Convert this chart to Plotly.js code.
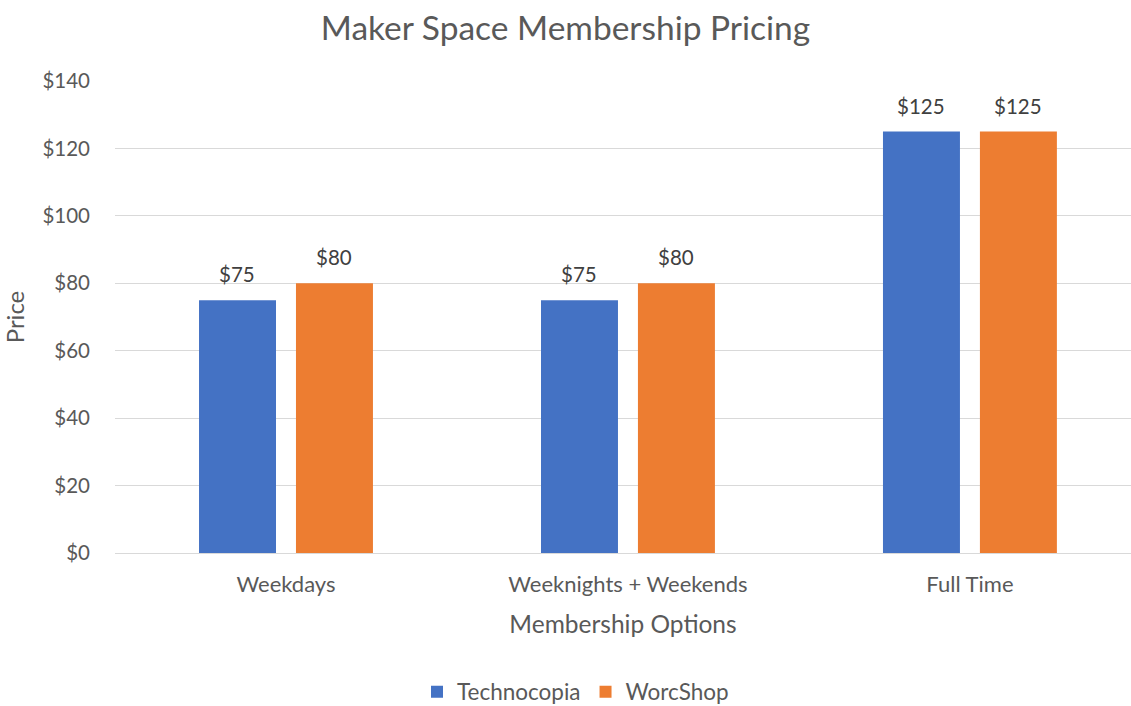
<!DOCTYPE html>
<html>
<head>
<meta charset="utf-8">
<script src="https://cdn.plot.ly/plotly-3.0.1.min.js"></script>
<style>html,body{margin:0;padding:0;background:#fff;}#chart{width:1131px;height:706px;}</style>
</head>
<body>
<div id="chart"></div>
<script>
const categories = ["Weekdays", "Weeknights + Weekends", "Full Time"];
const seriesNames = ["Technocopia", "WorcShop"];
const technocopia = [75, 75, 125];
const worcshop = [80, 80, 125];
const yTickVals = [0, 20, 40, 60, 80, 100, 120, 140];
const yTickText = ["$0", "$20", "$40", "$60", "$80", "$100", "$120", "$140"];

const FONT = "Lato, Open Sans, sans-serif";
const GREY = "#595959";
const COLORS = ["#4472C4", "#ED7D31"];
const SERIES = [technocopia, worcshop];
const OFFSETS = [-48.5, 48.5];

const traces = SERIES.map((vals, i) => ({
  type: "bar", name: seriesNames[i], x: categories, y: vals,
  marker: {color: COLORS[i]}, hoverinfo: "skip"
}));

const annotations = [];
SERIES.forEach((vals, i) => {
  vals.forEach((v, j) => {
    annotations.push({
      x: categories[j], y: v, xref: "x", yref: "y",
      text: "$" + v, showarrow: false,
      xshift: OFFSETS[i], yshift: 26, yanchor: "middle",
      font: {family: FONT, size: 20.5, color: "#404040"}
    });
  });
});

const layout = {
  width: 1131, height: 706,
  paper_bgcolor: "#fff", plot_bgcolor: "#fff",
  margin: {l: 115, r: 0, t: 81, b: 153},
  font: {family: FONT, color: GREY},
  title: {text: "Maker Space Membership Pricing", font: {family: FONT, size: 33.5, color: GREY},
          x: 0.5, xref: "container", y: 1 - 28/706, yref: "container", yanchor: "middle"},
  barmode: "group", bargap: 0.433, bargroupgap: 0.206,
  xaxis: {type: "category", range: [-0.5, 2.471], showgrid: false, zeroline: false,
          showline: false, ticks: "", tickfont: {family: FONT, size: 22, color: GREY},
          ticklabelstandoff: 16,
          title: {text: "Membership Options", font: {family: FONT, size: 24.5, color: GREY}, standoff: 19}},
  yaxis: {range: [0, 140], tickmode: "array", tickvals: yTickVals, ticktext: yTickText, showgrid: true,
          gridcolor: "#d9d9d9", gridwidth: 1, zeroline: true, zerolinecolor: "#d9d9d9", zerolinewidth: 1,
          showline: false, ticks: "", tickfont: {family: FONT, size: 20.5, color: GREY},
          ticklabelstandoff: 24,
          title: {text: "Price", font: {family: FONT, size: 24, color: GREY}, standoff: 11}},
  annotations: annotations,
  showlegend: true,
  legend: {orientation: "h", x: 0.5 + 10/1131, xref: "container", xanchor: "center",
           y: 1 - 692/706, yref: "container", yanchor: "middle",
           font: {family: FONT, size: 22.5, color: GREY}, itemwidth: 30, traceorder: "normal"}
};

Plotly.newPlot("chart", traces, layout, {displayModeBar: false, staticPlot: true});
</script>
</body>
</html>
